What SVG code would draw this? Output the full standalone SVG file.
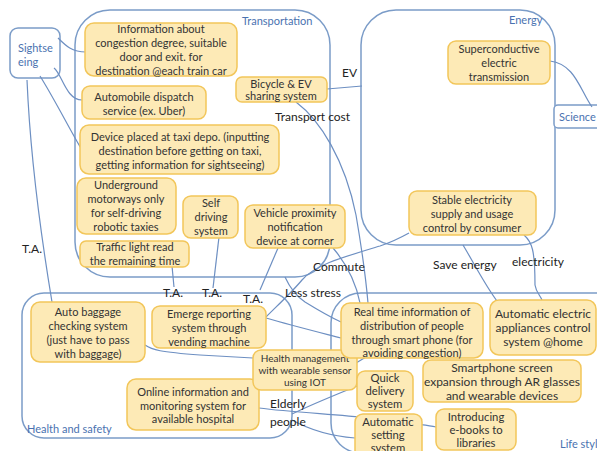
<svg xmlns="http://www.w3.org/2000/svg" width="597" height="451" viewBox="0 0 597 451">
<style>
.grp{fill:none;stroke:#7b9cc8;stroke-width:1.5}
.gl{font-family:Lato,"Liberation Sans",sans-serif;font-size:11px;fill:#4a72b0}
.nd{fill:#fdeab6;stroke:#f2c65a;stroke-width:1.5}
.t{font-family:Lato,"Liberation Sans",sans-serif;font-size:11px;fill:#333;text-anchor:middle}
.t12{font-size:12px}
.t11{font-size:11.3px}
.t10{font-size:10px}
.lb{font-family:Lato,"Liberation Sans",sans-serif;font-size:12px;fill:#222}
.cn path{fill:none;stroke:#6d8fc2;stroke-width:1.2}
</style>
<rect width="597" height="451" fill="#fff"/>
<g id="groups">
<g id="g-transport"><rect class="grp" x="75" y="10" width="255" height="267" rx="35"/><text class="gl" x="242" y="25">Transportation</text></g>
<g id="g-energy"><rect class="grp" x="361" y="10" width="194" height="235" rx="35"/><text class="gl" x="509" y="24">Energy</text></g>
<g id="g-health"><rect class="grp" x="22" y="293" width="270" height="145" rx="22"/><text class="gl" x="27" y="433">Health and safety</text></g>
<g id="g-life"><rect class="grp" x="331" y="293" width="300" height="160" rx="30"/><text class="gl" x="560" y="448">Life style</text></g>
</g>
<g id="sightseeing"><rect x="10" y="28" width="50" height="50" rx="8" fill="#fff" stroke="#7b9cc8" stroke-width="1.5"/><text class="gl" x="18" y="52">Sightse</text><text class="gl" x="18" y="66">eing</text></g>
<g id="science"><rect x="554" y="105" width="60" height="23" rx="4" fill="#fff" stroke="#7b9cc8" stroke-width="1.5"/><text class="gl" x="559" y="121">Science</text></g>
<g class="cn" id="connectors">
<path d="M58 38 C66 46 72 52 86 52"/>
<path d="M54 68 C62 74 66 100 82 100"/>
<path d="M40 76 C55 100 70 130 82 150"/>
<path d="M27 80 C30 150 40 230 52 302"/>
<path d="M327 89 L362 86"/>
<path d="M296 102 C320 120 345 160 356 215 C362 250 366 280 368 303"/>
<path d="M550 61 C575 64 580 90 592 107"/>
<path d="M524 235 C532 242 535 250 535 285 C536 292 540 295 542 300"/>
<path d="M463 245 C475 265 485 285 497 301"/>
<path d="M172 266 L174 287"/>
<path d="M219 237 L213 288"/>
<path d="M278 248 L260 290"/>
<path d="M333 248 C345 262 355 278 360 303"/>
<path d="M285 277 C290 288 296 296 305 302 C318 310 330 317 341 322"/>
<path d="M266 317 C278 305 292 292 302 280 C315 265 340 258 380 246 C392 242 400 238 409 233"/>
<path d="M145 345 C152 350 160 352 200 355 L253 358"/>
<path d="M266 318 C290 325 310 330 341 338"/>
<path d="M356 363 L366 357"/>
<path d="M259 408 C290 412 330 414 370 418 C400 422 420 424 436 427"/>
<path d="M292 414 C310 405 335 395 357 386"/>
<path d="M292 420 C310 430 330 436 355 438"/>
</g>
<g id="n-info"><rect class="nd" x="85" y="23" width="152" height="53" rx="9"/><text class="t" x="161" y="33">Information about</text><text class="t" x="161" y="47">congestion degree, suitable</text><text class="t" x="161" y="61">door and exit. for</text><text class="t" x="161" y="75">destination @each train car</text></g>
<g id="n-dispatch"><rect class="nd" x="82" y="86" width="124" height="33" rx="8"/><text class="t" x="144" y="101">Automobile dispatch</text><text class="t" x="144" y="115">service (ex. Uber)</text></g>
<g id="n-bicycle"><rect class="nd" x="236" y="77" width="91" height="25" rx="6"/><text class="t" x="281" y="88">Bicycle &amp; EV</text><text class="t" x="281" y="100">sharing system</text></g>
<g id="n-device"><rect class="nd" x="80" y="125" width="199" height="49" rx="9"/><text class="t" x="180" y="141">Device placed at taxi depo. (inputting</text><text class="t" x="180" y="155">destination before getting on taxi,</text><text class="t" x="180" y="169">getting information for sightseeing)</text></g>
<g id="n-underground"><rect class="nd" x="77" y="178" width="99" height="56" rx="9"/><text class="t" x="126" y="189">Underground</text><text class="t" x="126" y="203">motorways only</text><text class="t" x="126" y="217">for self-driving</text><text class="t" x="126" y="231">robotic taxies</text></g>
<g id="n-selfdriving"><rect class="nd" x="183" y="196" width="55" height="42" rx="8"/><text class="t" x="211" y="207">Self</text><text class="t" x="211" y="221">driving</text><text class="t" x="211" y="235">system</text></g>
<g id="n-traffic"><rect class="nd" x="80" y="241" width="109" height="26" rx="6"/><text class="t" x="135" y="251">Traffic light read</text><text class="t" x="135" y="265">the remaining time</text></g>
<g id="n-vehicle"><rect class="nd" x="245" y="205" width="100" height="43" rx="8"/><text class="t" x="295" y="217">Vehicle proximity</text><text class="t" x="295" y="231">notification</text><text class="t" x="295" y="245">device at corner</text></g>
<g id="n-supercond"><rect class="nd" x="448" y="41" width="102" height="43" rx="8"/><text class="t" x="499" y="53">Superconductive</text><text class="t" x="499" y="67">electric</text><text class="t" x="499" y="81">transmission</text></g>
<g id="n-stable"><rect class="nd" x="409" y="191" width="127" height="44" rx="8"/><text class="t" x="472" y="204">Stable electricity</text><text class="t" x="472" y="218">supply and usage</text><text class="t" x="472" y="232">control by consumer</text></g>
<g id="n-baggage"><rect class="nd" x="31" y="302" width="114" height="60" rx="9"/><text class="t" x="88" y="316">Auto baggage</text><text class="t" x="88" y="330">checking system</text><text class="t" x="88" y="344">(just have to pass</text><text class="t" x="88" y="358">with baggage)</text></g>
<g id="n-emerge"><rect class="nd" x="152" y="306" width="114" height="42" rx="8"/><text class="t" x="209" y="318">Emerge reporting</text><text class="t" x="209" y="332">system through</text><text class="t" x="209" y="346">vending machine</text></g>
<g id="n-online"><rect class="nd" x="127" y="379" width="132" height="51" rx="9"/><text class="t" x="193" y="396">Online information and</text><text class="t" x="193" y="410">monitoring system for</text><text class="t" x="193" y="423">available hospital</text></g>
<g id="n-health"><rect class="nd" x="253" y="350" width="104" height="40" rx="8"/><text class="t t10" x="305" y="362">Health management</text><text class="t t10" x="305" y="374">with wearable sensor</text><text class="t t10" x="305" y="386">using IOT</text></g>
<g id="n-realtime"><rect class="nd" x="341" y="303" width="142" height="55" rx="9"/><text class="t" x="412" y="316">Real time information of</text><text class="t" x="412" y="330">distribution of people</text><text class="t" x="412" y="344">through smart phone (for</text><text class="t" x="412" y="357">avoiding congestion)</text></g>
<g id="n-appliances"><rect class="nd" x="490" y="300" width="106" height="55" rx="9"/><text class="t t12" x="543" y="318">Automatic electric</text><text class="t t12" x="543" y="332">appliances control</text><text class="t t12" x="543" y="346">system @home</text></g>
<g id="n-smartphone"><rect class="nd" x="423" y="360" width="158" height="42" rx="8"/><text class="t t12" x="502" y="372">Smartphone screen</text><text class="t t12" x="502" y="386">expansion through AR glasses</text><text class="t t12" x="502" y="400">and wearable devices</text></g>
<g id="n-quick"><rect class="nd" x="357" y="371" width="56" height="40" rx="8"/><text class="t t11" x="385" y="382">Quick</text><text class="t t11" x="385" y="395">delivery</text><text class="t t11" x="385" y="408">system</text></g>
<g id="n-autoset"><rect class="nd" x="355" y="414" width="67" height="45" rx="8"/><text class="t t11" x="388" y="426">Automatic</text><text class="t t11" x="388" y="439">setting</text><text class="t t11" x="388" y="452">system</text></g>
<g id="n-ebooks"><rect class="nd" x="436" y="409" width="80" height="41" rx="8"/><text class="t t11" x="476" y="421">Introducing</text><text class="t t11" x="476" y="434">e-books to</text><text class="t t11" x="476" y="447">libraries</text></g>
<g id="labels">
<text class="lb" x="342" y="77">EV</text>
<text class="lb" x="275" y="121">Transport cost</text>
<text class="lb" x="22" y="253">T.A.</text>
<text class="lb" x="163" y="297">T.A.</text>
<text class="lb" x="202" y="297">T.A.</text>
<text class="lb" x="243" y="303">T.A.</text>
<text class="lb" x="313" y="271">Commute</text>
<text class="lb" x="285" y="297">Less stress</text>
<text class="lb" x="433" y="269">Save energy</text>
<text class="lb" x="512" y="266">electricity</text>
<text class="lb" x="270" y="408" font-size="13">Elderly</text>
<text class="lb" x="270" y="426" font-size="13">people</text>
</g>
</svg>
